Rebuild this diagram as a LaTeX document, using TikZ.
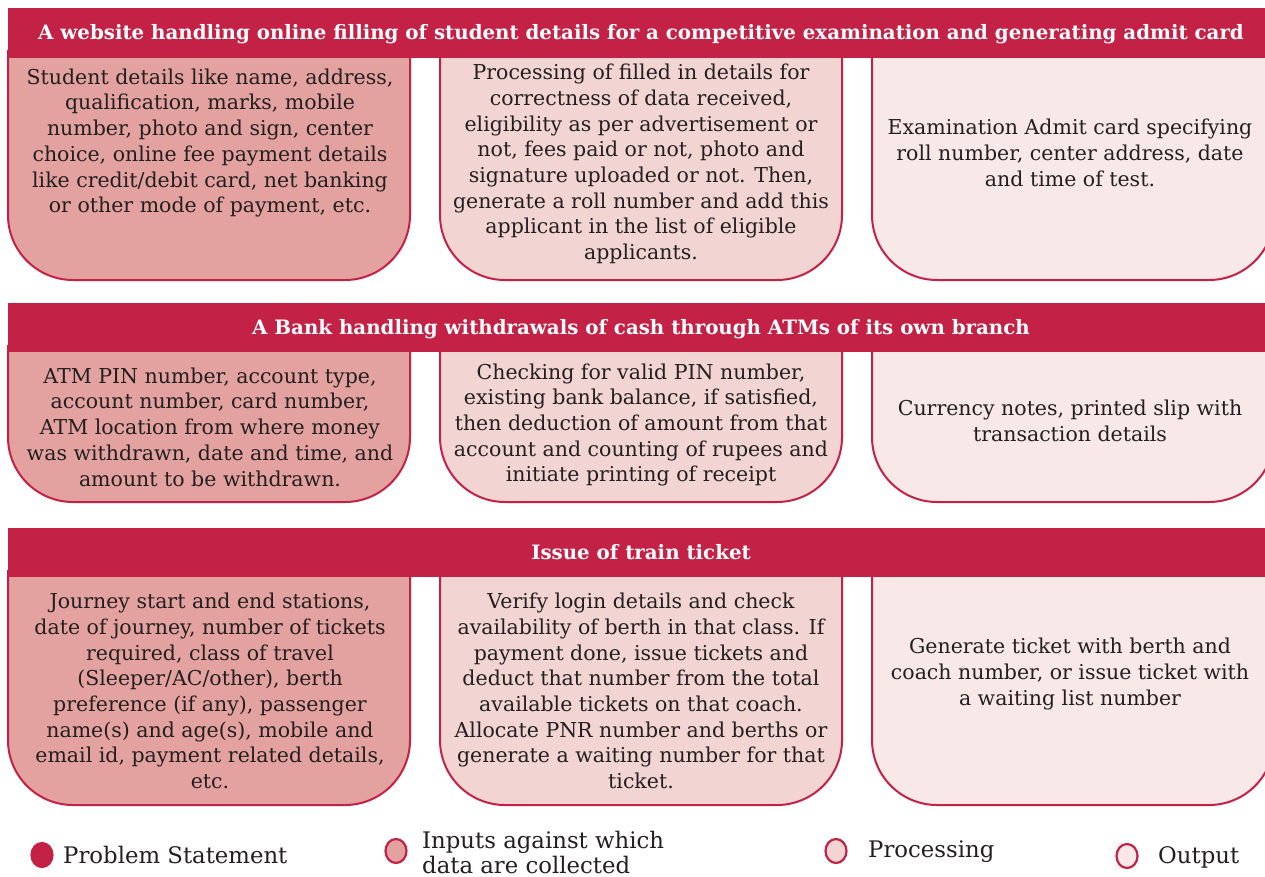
\documentclass[tikz,border=0pt]{standalone}
\usepackage{fontspec}
\setmainfont{DejaVu Serif}
\definecolor{crimson}{HTML}{C42146}
\definecolor{infill}{HTML}{E3A29F}
\definecolor{procfill}{HTML}{F2D5D2}
\definecolor{outfill}{HTML}{F8E9E8}
\definecolor{ink}{HTML}{231F20}
\newcommand{\bodyfont}{\fontsize{20.5pt}{25.7pt}\selectfont}
\newcommand{\headfont}{\fontsize{19.8pt}{22pt}\selectfont\bfseries}
\newcommand{\legfont}{\fontsize{22.8pt}{25pt}\selectfont}
\tikzset{
  boxline/.style={draw=crimson, line width=2pt, rounded corners=65pt},
  inbox/.style={boxline, fill=infill},
  procbox/.style={boxline, fill=procfill},
  outbox/.style={boxline, fill=outfill},
  headbar/.style={fill=crimson, draw=none},
  headtext/.style={text=white, font=\headfont, inner sep=0pt},
  bodytext/.style={text=ink, font=\bodyfont, align=center, inner sep=0pt},
  legdot/.style={draw=crimson, line width=2.2pt, ellipse, minimum width=21pt, minimum height=24pt, inner sep=0pt},
  legtext/.style={text=ink, font=\legfont, inner sep=0pt, align=left}
}
\usetikzlibrary{shapes.geometric}
\begin{document}
\begin{tikzpicture}[x=1pt,y=-1pt]
\clip (0,0) rectangle (1265,876);
\fill[white] (0,0) rectangle (1265,876);
% ---------- row 1 ----------
\path[inbox]   (8,50) -- (8,280) -- (410,280) -- (410,50);
\path[procbox] (440,50) -- (440,280) -- (842,280) -- (842,50);
\path[outbox]  (872,50) -- (872,280) -- (1274,280) -- (1274,50);
\path[headbar] (8,8) rectangle (1280,58);
\node[headtext] (h1) at (641,34) {A website handling online filling of student details for a competitive examination and generating admit card};
\node[bodytext] (i1) at (210,143) {Student details like name, address,\\qualification, marks, mobile\\number, photo and sign, center\\choice, online fee payment details\\like credit/debit card, net banking\\or other mode of payment, etc.};
\node[bodytext] (p1) at (641,164) {Processing of filled in details for\\correctness of data received,\\eligibility as per advertisement or\\not, fees paid or not, photo and\\signature uploaded or not. Then,\\generate a roll number and add this\\applicant in the list of eligible\\applicants.};
\node[bodytext] (o1) at (1070,153) {Examination Admit card specifying\\roll number, center address, date\\and time of test.};
% ---------- row 2 ----------
\path[inbox]   (8,345) -- (8,502) -- (410,502) -- (410,345);
\path[procbox] (440,345) -- (440,502) -- (842,502) -- (842,345);
\path[outbox]  (872,345) -- (872,502) -- (1274,502) -- (1274,345);
\path[headbar] (8,303) rectangle (1280,352);
\node[headtext] (h2) at (641,329) {A Bank handling withdrawals of cash through ATMs of its own branch};
\node[bodytext] (i2) at (210,427) {ATM PIN number, account type,\\account number, card number,\\ATM location from where money\\was withdrawn, date and time, and\\amount to be withdrawn.};
\node[bodytext] (p2) at (641,425) {Checking for valid PIN number,\\existing bank balance, if satisfied,\\then deduction of amount from that\\account and counting of rupees and\\initiate printing of receipt};
\node[bodytext] (o2) at (1070,421) {Currency notes, printed slip with\\transaction details};
% ---------- row 3 ----------
\path[inbox]   (8,570) -- (8,805) -- (410,805) -- (410,570);
\path[procbox] (440,570) -- (440,805) -- (842,805) -- (842,570);
\path[outbox]  (872,570) -- (872,805) -- (1274,805) -- (1274,570);
\path[headbar] (8,528) rectangle (1280,577);
\node[headtext] (h3) at (641,552) {Issue of train ticket};
\node[bodytext] (i3) at (210,691) {Journey start and end stations,\\date of journey, number of tickets\\required, class of travel\\(Sleeper/AC/other), berth\\preference (if any), passenger\\name(s) and age(s), mobile and\\email id, payment related details,\\etc.};
\node[bodytext] (p3) at (641,691) {Verify login details and check\\availability of berth in that class. If\\payment done, issue tickets and\\deduct that number from the total\\available tickets on that coach.\\Allocate PNR number and berths or\\generate a waiting number for that\\ticket.};
\node[bodytext] (o3) at (1070,674) {Generate ticket with berth and\\coach number, or issue ticket with\\a waiting list number};
% ---------- legend ----------
\node[legdot, fill=crimson] (l1) at (42,855) {};
\node[legtext, anchor=west] (t1) at (63,855) {Problem Statement};
\node[legdot, fill=infill] (l2) at (396,851) {};
\node[legtext, anchor=west] (t2) at (422,852) {Inputs against which\\data are collected};
\node[legdot, fill=procfill] (l3) at (836,851) {};
\node[legtext, anchor=west] (t3) at (868,852) {Processing};
\node[legdot, fill=outfill] (l4) at (1127,856) {};
\node[legtext, anchor=west] (t4) at (1158,857) {Output};
\end{tikzpicture}
\end{document}
